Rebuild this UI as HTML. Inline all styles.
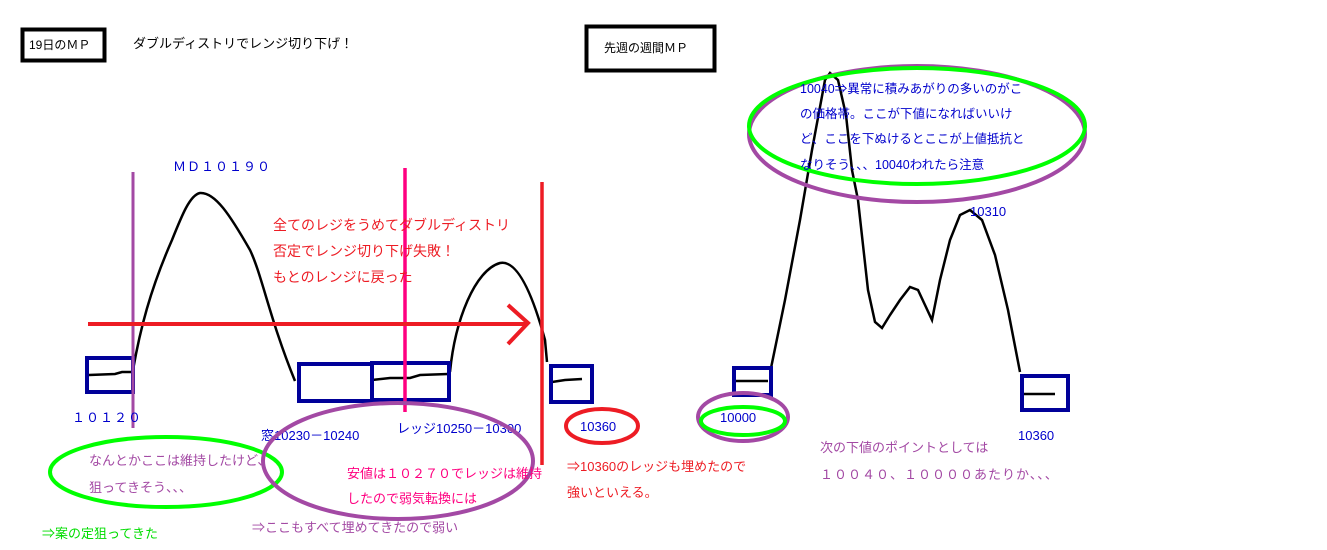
<!DOCTYPE html>
<html><head><meta charset="utf-8"><style>
body{margin:0;background:#fff}
svg{display:block}
text{font-family:"Liberation Sans","Noto Sans CJK JP",sans-serif;font-size:13px}
</style></head><body>
<svg width="1327" height="550" viewBox="0 0 1327 550" xmlns="http://www.w3.org/2000/svg">
<rect width="1327" height="550" fill="#fff"/>
<rect x="22.5" y="29.5" width="82" height="31" fill="none" stroke="#000" stroke-width="4"/>
<text x="29" y="49" fill="#000" style="font-size:12px">19日のＭＰ</text>
<text x="133" y="48" fill="#000">ダブルディストリでレンジ切り下げ！</text>
<rect x="586.5" y="26.5" width="128" height="44" fill="none" stroke="#000" stroke-width="4"/>
<text x="604" y="52" fill="#000" style="font-size:12px">先週の週間ＭＰ</text>

<text x="173" y="171" fill="#0000cc" letter-spacing="1">ＭＤ１０１９０</text>

<g fill="none" stroke="#000" stroke-width="2.5">
<path d="M133 370 C140 330 150 290 172 240 C182 215 190 195 200 193 C215 192 230 215 250 250 C262 275 270 320 295 381"/>
<path d="M450 372 C455 320 475 270 500 263 C515 260 530 285 545 340 L547 362"/>
<path d="M89 375 L115 374 L122 372 L133 372"/>
<path d="M372 380 L390 378 L410 378 L420 375 L448 374"/>
<path d="M552 382 L565 380 L582 379"/>
<path d="M771 368 L785 300 L800 220 L812 150 L825 80 L830 73 L838 80 L846 115 L852 170 L858 200 L868 290 L875 322 L882 328 L890 315 L900 300 L910 287 L918 290 L925 305 L932 320 L940 280 L950 240 L960 215 L970 210 L982 220 L995 255 L1008 310 L1020 372"/>
<path d="M735 381 L768 381"/>
<path d="M1023 394 L1055 394"/>
</g>

<g fill="none" stroke="#000099" stroke-width="4">
<rect x="87" y="358" width="46" height="34"/>
<rect x="299" y="364" width="73" height="37"/>
<rect x="372" y="363" width="77" height="37"/>
<rect x="551" y="366" width="41" height="36"/>
<rect x="734" y="368" width="37" height="27"/>
<rect x="1022" y="376" width="46" height="34"/>
</g>

<line x1="133" y1="172" x2="133" y2="428" stroke="#a349a4" stroke-width="3"/>
<line x1="405" y1="168" x2="405" y2="412" stroke="#ff0080" stroke-width="3.5"/>
<line x1="542" y1="182" x2="542" y2="465" stroke="#ed1c24" stroke-width="3.5"/>

<g stroke="#ed1c24" stroke-width="4" fill="none">
<line x1="88" y1="324" x2="528" y2="324"/>
<polyline points="508,305 528,323 508,344"/>
</g>

<text x="273" y="230" fill="#ed1c24" style="font-size:14px">全てのレジをうめてダブルディストリ</text>
<text x="273" y="256" fill="#ed1c24" style="font-size:14px">否定でレンジ切り下げ失敗！</text>
<text x="273" y="282" fill="#ed1c24" style="font-size:14px">もとのレンジに戻った</text>

<text x="72" y="422" fill="#0000cc" letter-spacing="1">１０１２０</text>
<text x="261" y="440" fill="#0000cc">窓10230－10240</text>
<text x="397" y="433" fill="#0000cc">レッジ10250－10300</text>
<text x="580" y="431" fill="#0000cc">10360</text>

<g fill="none" stroke-width="4">
<ellipse cx="166" cy="472" rx="116" ry="35" stroke="#00ff00"/>
<ellipse cx="398" cy="461" rx="135" ry="58" stroke="#a349a4"/>
<ellipse cx="602" cy="426" rx="36" ry="17" stroke="#ed1c24"/>
<ellipse cx="743" cy="417" rx="45" ry="24" stroke="#a349a4"/>
<ellipse cx="743" cy="421" rx="42" ry="14" stroke="#00ff00"/>
<ellipse cx="917" cy="134" rx="168" ry="68" stroke="#a349a4"/>
<ellipse cx="917" cy="126" rx="168" ry="58" stroke="#00ff00"/>
</g>

<text x="89" y="465" fill="#a349a4">なんとかここは維持したけど、</text>
<text x="89" y="492" fill="#a349a4">狙ってきそう、、、</text>
<text x="347" y="478" fill="#ff0080">安値は１０２７０でレッジは維持</text>
<text x="347" y="503" fill="#ff0080">したので弱気転換には</text>
<text x="567" y="471" fill="#ed1c24">⇒10360のレッジも埋めたので</text>
<text x="567" y="497" fill="#ed1c24">強いといえる。</text>
<text x="42" y="538" fill="#00dd00">⇒案の定狙ってきた</text>
<text x="252" y="532" fill="#a349a4">⇒ここもすべて埋めてきたので弱い</text>

<text x="720" y="422" fill="#0000cc">10000</text>
<text x="820" y="452" fill="#a349a4">次の下値のポイントとしては</text>
<text x="820" y="479" fill="#a349a4" letter-spacing="1">１００４０、１００００あたりか、、、</text>
<text x="1018" y="440" fill="#0000cc">10360</text>
<text x="970" y="216" fill="#0000cc">10310</text>

<text x="800" y="93" fill="#0000cc" style="font-size:12.5px">10040⇒異常に積みあがりの多いのがこ</text>
<text x="800" y="118" fill="#0000cc" style="font-size:12.5px">の価格帯。ここが下値になればいいけ</text>
<text x="800" y="143" fill="#0000cc" style="font-size:12.5px">ど、ここを下ぬけるとここが上値抵抗と</text>
<text x="800" y="169" fill="#0000cc" style="font-size:12.5px">なりそう、、、10040われたら注意</text>
</svg>
</body></html>
